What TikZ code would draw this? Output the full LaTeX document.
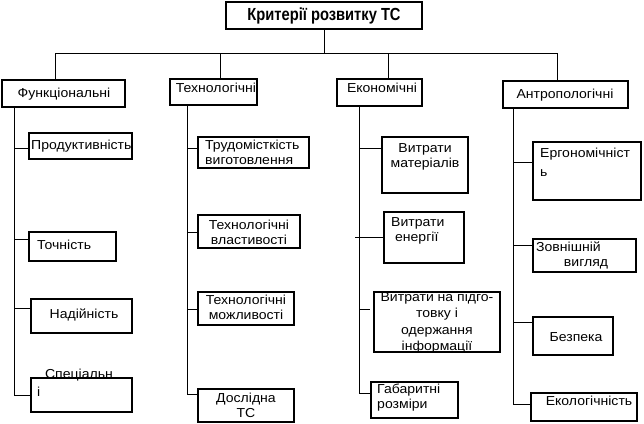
\documentclass[tikz,border=0pt]{standalone}
\usepackage{fontspec}
\setmainfont{Liberation Sans}[FakeStretch=1.08]
\newfontfamily\titlefont{Liberation Sans}[FakeStretch=0.84]
\usetikzlibrary{fit}
\begin{document}
\begin{tikzpicture}[x=1pt,y=-1pt,
  box/.style={draw, line width=2.1pt, inner sep=0pt},
  conn/.style={line width=0.9pt},
  txt/.style={inner sep=0pt, font=\fontsize{13}{15}\selectfont, align=center},
  ltxt/.style={txt, align=left, anchor=west},
  ttl/.style={inner sep=0pt, font=\titlefont\bfseries\fontsize{17.5}{19}\selectfont}]
\useasboundingbox (0,0) rectangle (644,423);
% title
\node[box, fit={(226,2)(422,29)}] (title) {};
\node[ttl] (titletxt) at (title.center) {Критерії розвитку ТС};
% categories
\node[box, fit={(2,80)(125,107)}] (fun) {};
\node[txt] (funtxt) at (64,94) {Функціональні};
\node[box, fit={(170,79)(257,105)}] (tech) {};
\node[txt] (techtxt) at (216,88) {Технологічні};
\node[box, fit={(337,79)(422,106)}] (econ) {};
\node[txt] (econtxt) at (382,88) {Економічні};
\node[box, fit={(503,81)(628,108)}] (anth) {};
\node[txt] (anthtxt) at (565,95) {Антропологічні};
% bus
\coordinate (dF) at (55,53);
\coordinate (dT) at (220,53);
\coordinate (dE) at (388,53);
\coordinate (dA) at (557,53);
\draw[conn] (title.south) -- (title.south |- dF);
\draw[conn] (dF) -- (dA);
\draw[conn] (dF) -- (dF |- fun.north);
\draw[conn] (dT) -- (dT |- tech.north);
\draw[conn] (dE) -- (dE |- econ.north);
\draw[conn] (dA) -- (dA |- anth.north);
% ---- Functional column
\coordinate (cF) at (14,395);
\draw[conn] (cF |- fun.south) -- (cF);
\node[box, fit={(29,133)(132,159)}] (prod) {};
\node[ltxt] (prodtxt) at (31,146) {Продуктивність};
\node[box, fit={(29,232)(116,261)}] (toch) {};
\node[ltxt] (tochtxt) at (37,245) {Точність};
\node[box, fit={(31,299)(132,333)}] (nad) {};
\node[txt] (nadtxt) at (84,315) {Надійність};
\node[box, fit={(31,378)(132,412)}] (spec) {};
\node[txt] (spectxt) at (79,375) {Спеціальн};
\node[ltxt] (spectxtb) at (37,392) {і};
\coordinate (tF1) at (14,148); \draw[conn] (tF1) -- (tF1 -| prod.west);
\coordinate (tF2) at (14,239); \draw[conn] (tF2) -- (tF2 -| toch.west);
\coordinate (tF3) at (14,308); \draw[conn] (tF3) -- (tF3 -| nad.west);
\draw[conn] (cF) -- (cF -| spec.west);
% ---- Technological column
\coordinate (cT) at (187,394);
\draw[conn] (cT |- tech.south) -- (cT);
\node[box, fit={(198,137)(309,168)}] (trud) {};
\node[ltxt] (trudtxt) at (205,152) {Трудомісткість\\виготовлення};
\node[box, fit={(198,215)(300,248)}] (tvl) {};
\node[txt] (tvltxt) at (249,232) {Технологічні\\властивості};
\node[box, fit={(198,292)(294,325)}] (tmozh) {};
\node[txt] (tmozhtxt) at (246,307.5) {Технологічні\\можливості};
\node[box, fit={(198,389)(294,422)}] (dosl) {};
\node[txt] (dosltxt) at (246,405) {Дослідна\\ТС};
\coordinate (tT1) at (187,148); \draw[conn] (tT1) -- (tT1 -| trud.west);
\coordinate (tT2) at (187,232); \draw[conn] (tT2) -- (tT2 -| tvl.west);
\coordinate (tT3) at (187,309); \draw[conn] (tT3) -- (tT3 -| tmozh.west);
\draw[conn] (cT) -- (cT -| dosl.west);
% ---- Economic column
\coordinate (cE) at (359,393);
\draw[conn] (cE |- econ.south) -- (cE);
\node[box, fit={(382,137)(468,193)}] (vmat) {};
\node[txt] (vmattxt) at (425,156.5) {Витрати\\матеріалів};
\node[box, fit={(384,212)(464,263)}] (venerg) {};
\node[ltxt] (venergtxt) at (391,231) {Витрати\\\ енергії};
\node[box, fit={(374,292)(500,352)}] (vinfo) {};
\node[txt, font=\fontsize{13}{16.3}\selectfont] (vinfotxt) at (437,322.5) {Витрати на підго-\\товку і\\одержання\\інформації};
\node[box, fit={(371,382)(458,418)}] (gab) {};
\node[ltxt] (gabtxt) at (377,398) {Габаритні\\розміри};
\coordinate (tE1) at (359,148); \draw[conn] (tE1) -- (tE1 -| vmat.west);
\coordinate (tE2) at (355,237); \draw[conn] (tE2) -- (tE2 -| venerg.west);
\coordinate (tE3) at (359,309); \coordinate (tE3e) at (370,309); \draw[conn] (tE3) -- (tE3e);
\draw[conn] (cE) -- (cE -| gab.west);
% ---- Anthropological column
\coordinate (cA) at (513,404);
\draw[conn] (cA |- anth.south) -- (cA);
\node[box, fit={(533,142)(641,200)}] (erg) {};
\node[ltxt, font=\fontsize{13}{19}\selectfont] (ergtxt) at (540,162.5) {Ергономічніст\\ь};
\node[box, fit={(533,239)(636,272)}] (zovn) {};
\node[ltxt] (zovntxt) at (536,247) {Зовнішній};
\node[txt] (zovntxtb) at (586,264) {вигляд};
\node[box, fit={(533,317)(613,355)}] (bezp) {};
\node[txt] (bezptxt) at (576,337) {Безпека};
\node[box, fit={(531,393)(637,421)}] (ekol) {};
\node[txt] (ekoltxt) at (589,401) {Екологічність};
\coordinate (tA1) at (513,162); \draw[conn] (tA1) -- (tA1 -| erg.west);
\coordinate (tA2) at (513,245); \draw[conn] (tA2) -- (tA2 -| zovn.west);
\coordinate (tA3) at (513,322); \draw[conn] (tA3) -- (tA3 -| bezp.west);
\draw[conn] (cA) -- (cA -| ekol.west);
\end{tikzpicture}
\end{document}
